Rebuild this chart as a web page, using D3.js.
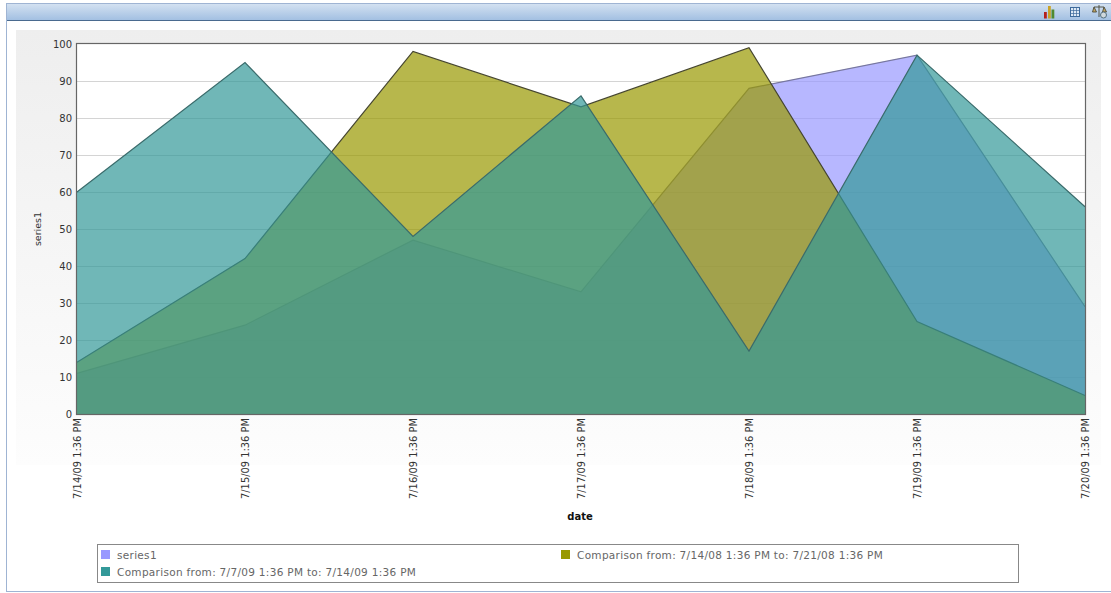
<!DOCTYPE html>
<html><head><meta charset="utf-8">
<script src="https://cdn.jsdelivr.net/npm/d3@7"></script>
<style>html,body{margin:0;padding:0;background:#fff;overflow:hidden}svg{display:block;font-family:"DejaVu Sans",sans-serif}</style>
</head><body><svg id="c" width="1111" height="593"></svg>
<script>
const dates=["7/14/09 1:36 PM","7/15/09 1:36 PM","7/16/09 1:36 PM","7/17/09 1:36 PM","7/18/09 1:36 PM","7/19/09 1:36 PM","7/20/09 1:36 PM"];
const series1=[11,24,47,33,88,97,29];
const comparisonA=[14,42,98,83,99,25,5];
const comparisonB=[60,95,48,86,17,97,56];
const yTicks=[0,10,20,30,40,50,60,70,80,90,100];
const legendLabels=["series1","Comparison from: 7/14/08 1:36 PM to: 7/21/08 1:36 PM","Comparison from: 7/7/09 1:36 PM to: 7/14/09 1:36 PM"];
const colors=["#9999ff","#999900","#339999"];
const strokes=["#77779f","#45452f","#3a6b6b"];

const svg=d3.select("#c");
const defs=svg.append("defs");
const hg=defs.append("linearGradient").attr("id","hdr").attr("x1",0).attr("x2",0).attr("y1",0).attr("y2",1);
hg.append("stop").attr("offset",0).attr("stop-color","#d3e1f1");
hg.append("stop").attr("offset",1).attr("stop-color","#a3c0e2");
const bg=defs.append("linearGradient").attr("id","pan").attr("x1",0).attr("x2",0).attr("y1",0).attr("y2",1);
bg.append("stop").attr("offset",0).attr("stop-color","#eeeeee");
bg.append("stop").attr("offset",1).attr("stop-color","#fdfdfd");

// frame + header
svg.append("rect").attr("x",6.5).attr("y",3.5).attr("width",1120).attr("height",588).attr("fill","#fff").attr("stroke","#9fb4d3");
svg.append("rect").attr("x",7).attr("y",4).attr("width",1104).attr("height",16).attr("fill","url(#hdr)");
svg.append("line").attr("x1",7).attr("x2",1111).attr("y1",20.5).attr("y2",20.5).attr("stroke","#4a6a8f");
svg.append("rect").attr("x",16).attr("y",30).attr("width",1085).attr("height",435).attr("fill","url(#pan)");

// toolbar icons
const ic=svg.append("g");
[[1044,12,"#b5201c"],[1048,6,"#c9a227"],[1051.5,9.5,"#4f8a2f"]].forEach(d=>ic.append("rect").attr("x",d[0]).attr("y",d[1]).attr("width",2.8).attr("height",18.5-d[1]).attr("fill",d[2]));
ic.append("rect").attr("x",1070.5).attr("y",7.5).attr("width",9).attr("height",9).attr("fill","#dce8f5").attr("stroke","#3d6a9c");
ic.append("path").attr("d","M1073.5 8v9M1076.5 8v9M1071 10.5h9M1071 13.5h9").attr("stroke","#3d6a9c").attr("stroke-width",.7);
ic.append("path").attr("d","M1099 5v12M1094 7h10M1094 7l-1.5 5h4zM1104 7l-1.5 5h4z").attr("stroke","#4a4a3a").attr("fill","#c9a860").attr("stroke-width",.9);
ic.append("circle").attr("cx",1103.5).attr("cy",15).attr("r",3).attr("fill","#cfd8dd").attr("stroke","#55707f");

// plot
const m={l:77,r:1085,t:44,b:414};
const x=d3.scalePoint().domain(dates).range([m.l,m.r]);
const y=d3.scaleLinear().domain([0,100]).range([m.b,m.t]);
svg.append("rect").attr("x",m.l).attr("y",m.t).attr("width",m.r-m.l).attr("height",m.b-m.t).attr("fill","#fff");
svg.append("g").selectAll("line").data(yTicks.filter(d=>d>0&&d<100)).join("line")
 .attr("x1",m.l).attr("x2",m.r).attr("y1",d=>Math.round(y(d))+.5).attr("y2",d=>Math.round(y(d))+.5).attr("stroke","#d4d4d4");

const area=d3.area().x((d,i)=>x(dates[i])).y0(m.b).y1(d=>y(d));
const line=d3.line().x((d,i)=>x(dates[i])).y(d=>y(d));
[series1,comparisonA,comparisonB].forEach((s,i)=>{
  svg.append("path").attr("d",area(s)).attr("fill",colors[i]).attr("fill-opacity",.7);
  svg.append("path").attr("d",line(s)).attr("fill","none").attr("stroke",strokes[i]).attr("stroke-width",1.2);
});
svg.append("rect").attr("x",m.l-.5).attr("y",m.t-.5).attr("width",m.r-m.l+1).attr("height",m.b-m.t+1).attr("fill","none").attr("stroke","#666").attr("stroke-width",1.2);

// axes
const ya=svg.append("g").attr("transform",`translate(${m.l},0)`).call(d3.axisLeft(y).tickValues(yTicks).tickSize(0).tickPadding(5));
ya.select(".domain").remove();
ya.selectAll("text").attr("font-size",10).attr("font-family","DejaVu Sans").attr("fill","#333");
const xa=svg.append("g").attr("transform",`translate(0,${m.b})`).call(d3.axisBottom(x).tickSize(0));
xa.select(".domain").remove();
xa.selectAll("text").attr("font-size",9.9).attr("font-family","DejaVu Sans").attr("fill","#333")
 .attr("text-anchor","end").attr("dy",0).attr("y",0)
 .attr("transform","translate(0,4) rotate(-90)").attr("dominant-baseline","middle");
svg.append("text").attr("transform","translate(41,229) rotate(-90)").attr("text-anchor","middle").attr("font-size",9.5).attr("fill","#333").text("series1");
svg.append("text").attr("x",580).attr("y",520).attr("text-anchor","middle").attr("font-size",10).attr("font-weight","bold").attr("fill","#111").text("date");

// legend
svg.append("rect").attr("x",97.5).attr("y",544.5).attr("width",921).attr("height",38).attr("fill","#fff").attr("stroke","#888");
const lpos=[[101,550],[561,550],[101,567]];
legendLabels.forEach((t,i)=>{
  svg.append("rect").attr("x",lpos[i][0]).attr("y",lpos[i][1]).attr("width",9).attr("height",9).attr("fill",colors[i]);
  svg.append("text").attr("x",lpos[i][0]+16).attr("y",lpos[i][1]+8.5).attr("font-size",10.5).attr("letter-spacing",.3).attr("fill","#666").text(t);
});
</script></body></html>
